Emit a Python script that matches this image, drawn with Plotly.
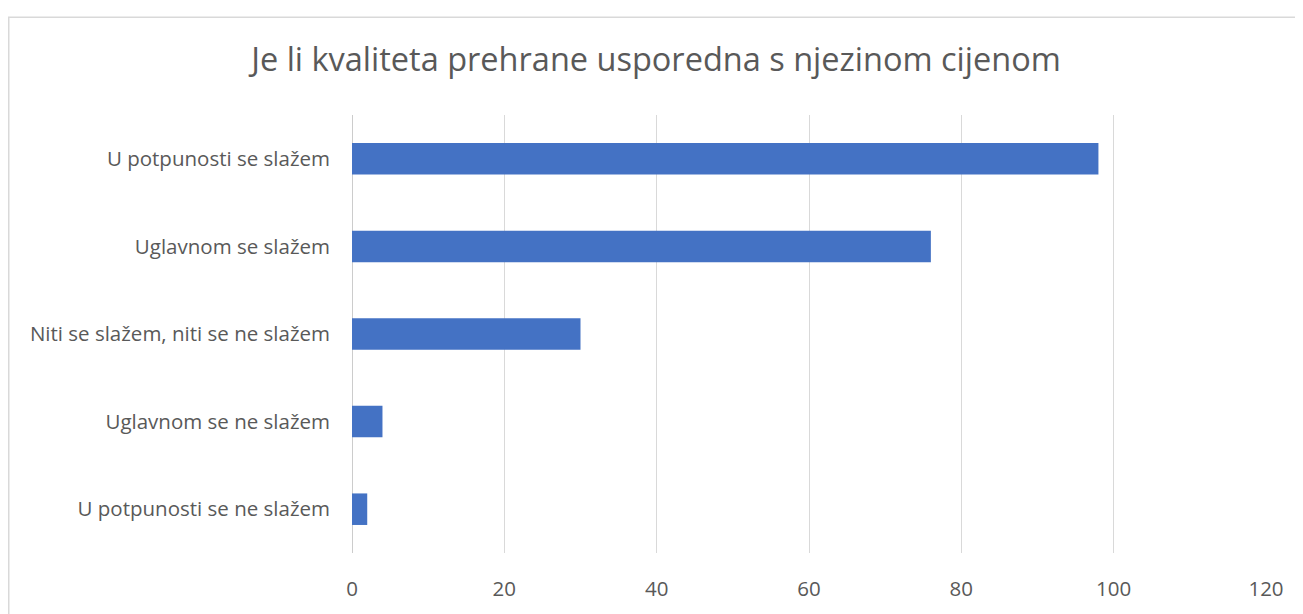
import plotly.graph_objects as go

categories = [
    "U potpunosti se slažem",
    "Uglavnom se slažem",
    "Niti se slažem, niti se ne slažem",
    "Uglavnom se ne slažem",
    "U potpunosti se ne slažem",
]
values = [98, 76, 30, 4, 2]
x_ticks = [0, 20, 40, 60, 80, 100, 120]
title_text = "Je li kvaliteta prehrane usporedna s njezinom cijenom"

# page has an 8px body margin; figure coords = page coords - 8
W, H = 1295, 606
L, R, T, B = 344, 37, 107, 53
pw, ph = W - L - R, H - T - B

fig = go.Figure(go.Bar(
    x=values, y=categories, orientation="h",
    marker=dict(color="#4472C4", line=dict(width=0)),
    width=0.36,
))

font_family = "Open Sans, Noto Sans, sans-serif"
fig.update_layout(
    width=W, height=H,
    margin=dict(l=L, r=R, t=T, b=B),
    paper_bgcolor="white", plot_bgcolor="white",
    showlegend=False,
    title=dict(text=title_text, x=(656 - 8) / W, xanchor="center", y=1 - 52 / H, yanchor="middle",
               font=dict(family=font_family, size=32.5, color="#595959")),
    font=dict(family=font_family, size=20.5, color="#595959"),
    xaxis=dict(range=[0, 120], tickvals=x_ticks, showgrid=True, gridcolor="#d9d9d9", gridwidth=1,
               zeroline=True, zerolinecolor="#cccccc", zerolinewidth=1, showline=False,
               ticklabelstandoff=21, tickfont=dict(size=20.5, color="#595959")),
    yaxis=dict(categoryorder="array", categoryarray=categories[::-1], showgrid=False,
               showline=False, zeroline=False, ticklabelstandoff=21,
               tickfont=dict(size=20.5, color="#595959")),
    shapes=[dict(type="rect", xref="paper", yref="paper",
                 x0=(0.75 - L) / pw, x1=(W + 20 - L) / pw,
                 y0=-(B + 10) / ph,
                 y1=(ph + (T - 7.5)) / ph,
                 line=dict(color="#d9d9d9", width=1.5), fillcolor="rgba(0,0,0,0)", layer="below")],
)

fig.write_html("out.html")
